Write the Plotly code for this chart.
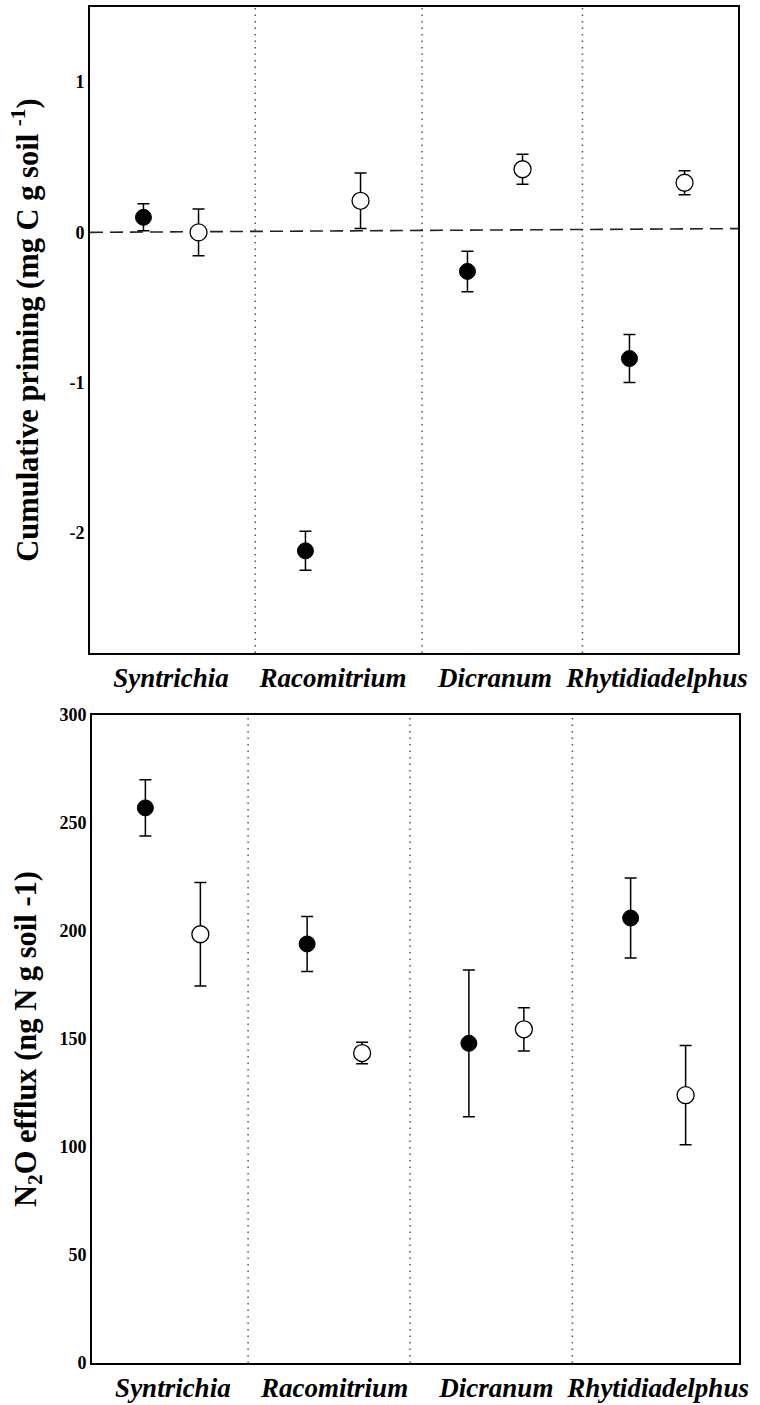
import plotly.graph_objects as go
from plotly.subplots import make_subplots

species = ["Syntrichia", "Racomitrium", "Dicranum", "Rhytidiadelphus"]

# Top panel: cumulative priming (mg C g soil-1)
priming_filled = [0.10, -2.12, -0.26, -0.84]
priming_filled_err = [0.09, 0.13, 0.135, 0.16]
priming_open = [0.0, 0.21, 0.42, 0.33]
priming_open_err = [0.155, 0.185, 0.10, 0.08]

# Bottom panel: N2O efflux (ng N g soil-1)
n2o_filled = [257, 194, 148, 206]
n2o_filled_err = [13, 12.7, 34, 18.5]
n2o_open = [198.5, 143.5, 154.5, 124]
n2o_open_err = [24, 5, 10, 23]

top_ticks = [-2, -1, 0, 1]
bottom_ticks = [0, 50, 100, 150, 200, 250, 300]

offset = 0.17
xf = [i - offset for i in range(len(species))]
xo = [i + offset for i in range(len(species))]

FONT = "Liberation Serif"

fig = make_subplots(rows=2, cols=1)

def add_panel(row, yf, ef, yo, eo):
    fig.add_trace(go.Scatter(
        x=xf, y=yf, mode="markers",
        marker=dict(symbol="circle", size=16, color="black", line=dict(color="black", width=1)),
        error_y=dict(type="data", array=ef, visible=True, color="black", thickness=1.5, width=6),
        showlegend=False), row=row, col=1)
    fig.add_trace(go.Scatter(
        x=xo, y=yo, mode="markers",
        marker=dict(symbol="circle", size=17, color="white", line=dict(color="black", width=1.3)),
        error_y=dict(type="data", array=eo, visible=True, color="black", thickness=1.5, width=6),
        showlegend=False), row=row, col=1)

add_panel(1, priming_filled, priming_filled_err, priming_open, priming_open_err)
add_panel(2, n2o_filled, n2o_filled_err, n2o_open, n2o_open_err)

ticktext = ["<b><i>%s</i></b>" % s for s in species]

axis_common = dict(showgrid=False, zeroline=False, showline=True, linecolor="black",
                   linewidth=1.8, mirror=True, ticks="", automargin=False)

fig.update_xaxes(range=[-0.5, 3.5], tickvals=[0, 1, 2, 3], ticktext=ticktext,
                 tickfont=dict(family=FONT, size=27, color="black"), **axis_common)
fig.update_yaxes(tickfont=dict(family=FONT, size=18, color="black"), **axis_common)

fig.update_xaxes(domain=[90/760, 738/760], row=1, col=1)
fig.update_xaxes(domain=[92/760, 739/760], row=2, col=1)
fig.update_yaxes(domain=[1-653/1405, 1-7/1405], range=[-2.8, 1.5], tickvals=top_ticks,
                 ticktext=["<b>%d</b>" % t for t in top_ticks],
                 title=dict(text="<b>Cumulative priming (mg C g soil <sup>-1</sup>)</b>",
                            font=dict(family=FONT, size=30.5, color="black"), standoff=22),
                 row=1, col=1)
fig.update_yaxes(domain=[1-1363/1405, 1-715/1405], range=[0, 300], tickvals=bottom_ticks,
                 ticktext=["<b>%d</b>" % t for t in bottom_ticks],
                 title=dict(text="<b>N<sub>2</sub>O efflux (ng N g soil -1)</b>",
                            font=dict(family=FONT, size=30.5, color="black"), standoff=14),
                 row=2, col=1)

# dotted separators between species
for xv in [0.52, 1.55, 2.54]:
    fig.add_shape(type="line", xref="x", yref="y domain", x0=xv, x1=xv, y0=0, y1=1,
                  line=dict(color="#555555", width=1.5, dash="1.5px,5px"), layer="below")
for xv in [0.465, 1.466, 2.47]:
    fig.add_shape(type="line", xref="x2", yref="y2 domain", x0=xv, x1=xv, y0=0, y1=1,
                  line=dict(color="#555555", width=1.5, dash="1.5px,5px"), layer="below")

# dashed zero reference line in top panel
fig.add_shape(type="line", xref="x", yref="y", x0=-0.5, x1=3.5, y0=0, y1=0.025,
              line=dict(color="#222222", width=1.6, dash="13px,7px"), layer="below")

fig.update_layout(width=760, height=1405, margin=dict(l=0, r=0, t=0, b=0),
                  plot_bgcolor="white", paper_bgcolor="white",
                  font=dict(family=FONT, color="black"))

fig.write_html("out.html", config={"displayModeBar": False},
               post_script="document.body.style.margin='0px';document.body.style.padding='0px';")
